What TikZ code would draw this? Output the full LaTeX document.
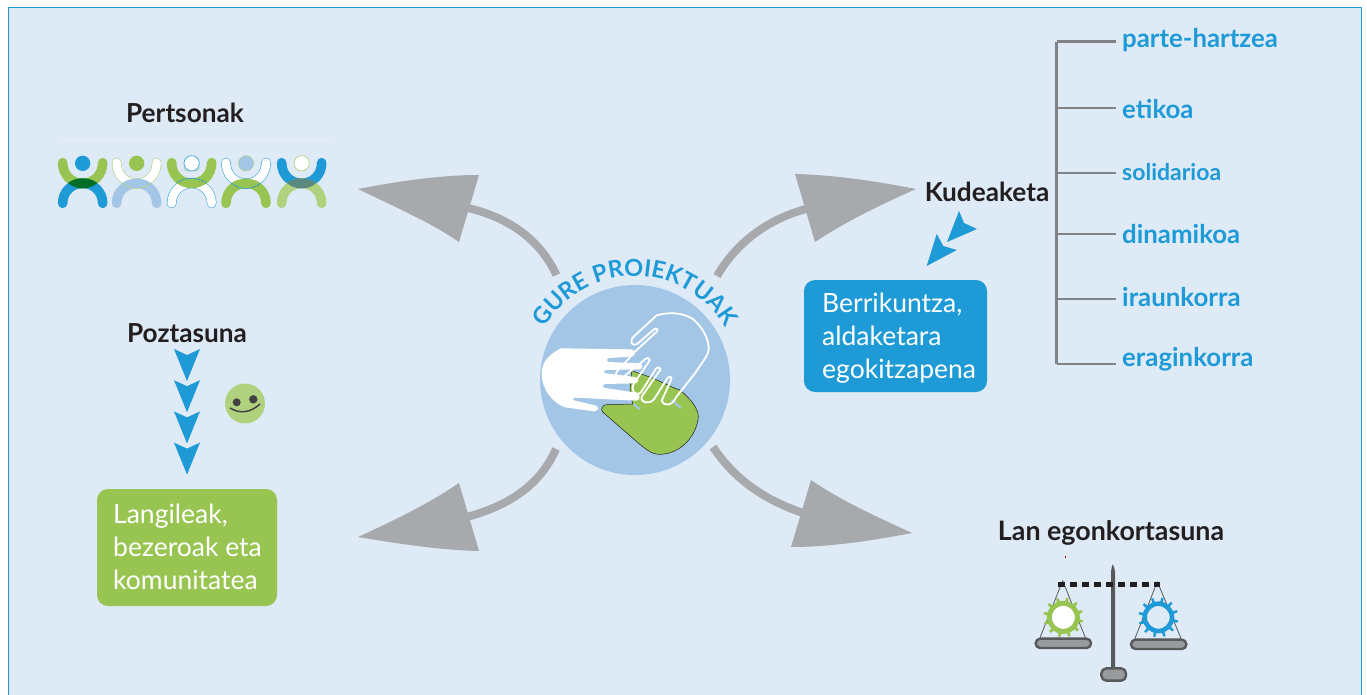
\documentclass[tikz,border=0pt]{standalone}
\usepackage{fontspec}
\setmainfont{Lato}
\usetikzlibrary{decorations.text,calc}
\definecolor{bgc}{HTML}{DEEAF6}
\definecolor{frame}{HTML}{1E9AD6}
\definecolor{bluec}{HTML}{1E9AD6}
\definecolor{greenc}{HTML}{98C552}
\definecolor{lgreen}{HTML}{B0D27F}
\definecolor{lblue}{HTML}{A3C6E7}
\definecolor{greyc}{HTML}{A7A9AC}
\definecolor{treec}{HTML}{808285}
\definecolor{darkc}{HTML}{231F20}
\definecolor{scalec}{HTML}{58595B}
\definecolor{panc}{HTML}{999A9C}
\tikzset{
  x=1pt,y=-1pt,
  title/.style={font=\bfseries\fontsize{26.2}{28}\selectfont,text=darkc,inner sep=0pt},
  item/.style={font=\bfseries\fontsize{25.8}{28}\selectfont,text=bluec,inner sep=0pt,anchor=west},
  boxtext/.style={font=\fontsize{26.5}{33}\selectfont,text=white,align=left,anchor=west,inner sep=0pt},
  shaft/.style={draw=greyc,line width=8pt},
  headg/.style={fill=greyc},
  smallarrow/.style={fill=bluec},
  branch/.style={draw=treec,line width=2.6pt},
}
\newcommand{\armpath}[1]{(#1-60,218) .. controls (#1-60,255) and (#1-33,280) .. (#1,280) .. controls (#1+33,280) and (#1+60,255) .. (#1+60,218)}
\newcommand{\legpath}[1]{(#1-60,340) .. controls (#1-60,305) and (#1-33,280) .. (#1,280) .. controls (#1+33,280) and (#1+60,305) .. (#1+60,340)}
\newcommand{\lenspath}[1]{(#1-44,279) .. controls (#1-20,260) and (#1+20,260) .. (#1+44,279) .. controls (#1+20,301) and (#1-20,301) .. cycle}
\newcommand{\toparc}[1]{(#1-44,279) .. controls (#1-20,260) and (#1+20,260) .. (#1+44,279)}
\newcommand{\botarc}[1]{(#1-44,279) .. controls (#1-20,301) and (#1+20,301) .. (#1+44,279)}
\newcommand{\gearteeth}[4]{\foreach \a in {0,30,...,330}{\fill[#4] ($(#1,#2)+(\a+5:#3)$) -- ($(#1,#2)+(\a+9:60)$) -- ($(#1,#2)+(\a+15:60)$) -- ($(#1,#2)+(\a+19:#3)$) -- cycle;}}
\begin{document}
\begin{tikzpicture}[line join=round]
\useasboundingbox (0,0) rectangle (1367,694);
\fill[white] (0,0) rectangle (1367,694);
\fill[bgc] (8,7) rectangle (1362,700);
\draw[frame,line width=1.6pt] (8.5,700) -- (8.5,7.5) -- (1361.5,7.5) -- (1361.5,700);

% centre disc
\node[circle,fill=lblue,minimum size=190pt,inner sep=0pt] (core) at (635,380) {};
\path[decorate,decoration={text along path,text align=center,
   text={|\bfseries\fontsize{23.5}{28}\selectfont\color{bluec}|GURE PROIEKTUAK}}]
   (635,380)++(-170:104) arc[start angle=-170,end angle=-10,radius=104];

% hands
\begin{scope}[shift={(520,250)},x=0.33333pt,y=-0.33333pt]
 \path[fill=greenc,draw=darkc,line width=0.5pt]
   (245,478) .. controls (245,470) and (252,464) .. (262,464) -- (338,462) -- (330,420) -- (335,362)
   -- (400,385) -- (465,415) -- (480,420)
   .. controls (510,445) and (535,475) .. (535,500)
   .. controls (530,560) and (480,612) .. (420,613)
   .. controls (395,613) and (380,600) .. (350,575)
   -- (255,492) .. controls (248,488) and (245,484) .. (245,478) -- cycle;
 \draw[lblue,line width=2pt,line cap=round] (342,463) -- (358,477);
 \draw[lblue,line width=2pt,line cap=round] (456,450) -- (482,474);
 \path[fill=white]
   (122,295) -- (335,298) .. controls (347,300) and (347,318) .. (335,320) -- (265,324) .. controls (258,326) and (258,334) .. (265,336)
   -- (358,340) .. controls (370,342) and (370,356) .. (358,358) -- (258,360) .. controls (250,362) and (250,368) .. (258,370)
   -- (345,381) .. controls (358,385) and (358,398) .. (345,400) -- (255,402) .. controls (247,404) and (247,412) .. (255,414)
   -- (350,428) .. controls (362,432) and (362,450) .. (350,452) -- (165,443) .. controls (157,445) and (157,450) .. (165,452)
   -- (225,466) .. controls (238,470) and (238,482) .. (222,484) -- (135,472)
   .. controls (100,460) and (65,420) .. (65,370) .. controls (65,330) and (95,310) .. (122,295) -- cycle;
 \draw[white,line width=1.8pt]
   (345,256) -- (410,196) .. controls (450,185) and (490,188) .. (520,208)
   .. controls (550,235) and (568,270) .. (566,300) .. controls (560,325) and (540,345) .. (525,370)
   -- (468,442) .. controls (458,468) and (430,470) .. (425,452) -- (455,386) .. controls (452,378) and (446,378) .. (442,385)
   -- (402,448) .. controls (392,462) and (360,462) .. (365,440) -- (422,358) .. controls (420,350) and (412,350) .. (408,356)
   -- (362,428) .. controls (345,440) and (330,420) .. (342,400) -- (390,330) .. controls (388,322) and (380,322) .. (375,328)
   -- (305,385) .. controls (290,385) and (280,375) .. (295,360) -- (345,305) -- (410,245) .. controls (416,238) and (410,232) .. (402,238)
   -- (350,283) .. controls (335,290) and (325,272) .. (345,256) -- cycle;
\end{scope}

% grey arrows
\coordinate (aTL) at (556.5,275); \coordinate (hTL) at (468,208);
\coordinate (aTR) at (717,276);   \coordinate (hTR) at (806,209);
\coordinate (aBL) at (556,449);   \coordinate (hBL) at (467,517);
\coordinate (aBR) at (713,447);   \coordinate (hBR) at (803,513);
\draw[shaft] (aTL) .. controls (540,240) and (510,218) .. (hTL);
\draw[shaft] (aTR) .. controls (735,245) and (765,220) .. (hTR);
\draw[shaft] (aBL) .. controls (540,485) and (510,505) .. (hBL);
\draw[shaft] (aBR) .. controls (735,480) and (765,500) .. (hBR);
\fill[headg] (358,189) .. controls (400,181) and (440,175) .. (479,175) -- (459,242) .. controls (430,222) and (395,207) .. cycle;
\fill[headg] (916,189) .. controls (875,181) and (835,175) .. (795,174) -- (815,242) .. controls (845,222) and (880,205) .. cycle;
\fill[headg] (358,537) .. controls (400,544) and (440,550) .. (479,551) -- (459,483) .. controls (430,503) and (395,520) .. cycle;
\fill[headg] (912,533) .. controls (870,541) and (830,547) .. (791,547) -- (811,480) .. controls (840,500) and (875,516) .. cycle;

% people
\node[title] (pertsonak) at (185,113) {Pertsonak};
\draw[white!25!bgc,line width=0.5pt] (57,140.5) -- (330,140.5);
\begin{scope}[shift={(40,90)},x=0.33333pt,y=-0.33333pt,line cap=round]
 % 1
 \draw[greenc,line width=9.6pt] \armpath{128};
 \draw[bluec,line width=9.6pt] \legpath{128};
 \fill[green!40!black!70!teal] \lenspath{128};
 \fill[bluec] (128,220) circle (23);
 % 2
 \draw[lgreen,line width=9.6pt] \armpath{290};
 \draw[white,line width=8.4pt] \armpath{290};
 \draw[lblue,line width=9.6pt] \legpath{290};
 \draw[lgreen,line width=0.6pt] \botarc{290};
 \fill[greenc] (290,220) circle (23);
 % 3
 \draw[bluec,line width=9.6pt] \legpath{455};
 \draw[white,line width=8.6pt] \legpath{455};
 \draw[greenc,line width=9.6pt] \armpath{455};
 \draw[bluec,line width=0.6pt] \toparc{455};
 \draw[bluec,fill=white,line width=0.6pt] (455,220) circle (23);
 \draw[greenc,line width=0.3pt] (432,232) arc[start angle=180,end angle=60,radius=12];
 \draw[greenc,line width=0.3pt] (478,232) arc[start angle=0,end angle=120,radius=12];
 % 4
 \draw[bluec,line width=9.6pt] \armpath{618};
 \draw[white,line width=8.6pt] \armpath{618};
 \draw[greenc,line width=9.6pt] \legpath{618};
 \draw[bluec,line width=0.6pt] \botarc{618};
 \draw[lgreen,line width=0.4pt,fill=lblue] (618,220) circle (23);
 % 5
 \draw[bluec,line width=9.6pt] \armpath{785};
 \draw[lgreen,line width=9.6pt] \legpath{785};
 \fill[green!25!black!45!lblue] \lenspath{785};
 \draw[lgreen,fill=white,line width=0.7pt] (785,220) circle (23);
\end{scope}

% Poztasuna column
\node[title] (poztasuna) at (187,333) {Poztasuna};
\foreach \d in {0,31.2,62.4,93.6}{
  \fill[smallarrow,shift={(0,\d)}] (174,349) -- (187,355) -- (200,349) -- (187,381) -- cycle;
}
\fill[lgreen] (245,403.5) circle (20);
\fill[darkc!85] (236.7,402.3) circle (4);
\fill[darkc!85] (253.3,399.3) circle (4.2);
\draw[darkc!85,line width=1.5pt] (230,408) .. controls (240,414) and (250,413) .. (260,404);

\node[fill=greenc,rounded corners=11pt,minimum width=180pt,minimum height=117pt,inner sep=0pt] (lang) at (187,547.5) {};
\node[boxtext] (langt) at (113,547) {Langileak,\\bezeroak eta\\komunitatea};

% Kudeaketa side
\node[title] (kude) at (987,192) {Kudeaketa};
\fill[smallarrow] (947,242) -- (959,211) -- (964,223) -- (977,229) -- cycle;
\fill[smallarrow] (926.7,266) -- (936.7,234) -- (943.3,246) -- (956.7,250) -- cycle;
\node[fill=bluec,rounded corners=11pt,minimum width=183pt,minimum height=112pt,inner sep=0pt] (berri) at (895.5,336) {};
\node[boxtext] (berrit) at (822,338) {Berrikuntza,\\aldaketara\\egokitzapena};

% tree
\node[item] (i1) at (1122,40) {parte-hartzea};
\node[item] (i2) at (1122,109) {etikoa};
\node[item,font=\bfseries\fontsize{23}{26}\selectfont] (i3) at (1122,172) {solidarioa};
\node[item] (i4) at (1122,234) {dinamikoa};
\node[item] (i5) at (1122,297) {iraunkorra};
\node[item] (i6) at (1122,359) {eraginkorra};
\coordinate (t1) at (1056.5,41.5);\coordinate (t2) at (1056.5,108);\coordinate (t3) at (1056.5,173);
\coordinate (t4) at (1056.5,234);\coordinate (t5) at (1056.5,299);\coordinate (t6) at (1056.5,364);
\draw[branch] (t1) -- (t6);
\foreach \n in {1,...,6}{\draw[branch,shorten >=6pt] (t\n) -- (t\n -| i\n.west);}

% balance
\node[title,font=\bfseries\fontsize{26.8}{28}\selectfont] (lan) at (1111,533) {Lan egonkortasuna};
\draw[red!70!black,line width=0.4pt] (1065.3,556) -- (1065.3,557.5);
\begin{scope}[shift={(1000,540)},x=0.33333pt,y=-0.33333pt]
 \draw[scalec,line width=0.8pt] (118,298) -- (188,122) -- (258,298);
 \draw[scalec,line width=0.8pt] (403,300) -- (472,125) -- (545,300);
 \gearteeth{190}{232}{45}{greenc}
 \draw[greenc,line width=5pt] (190,232) circle (42);
 \fill[white] (190,232) circle (34);
 \gearteeth{475}{232}{40}{bluec}
 \draw[bluec,line width=4.6pt] (475,232) circle (41);
 \fill[scalec] (333,385) -- (333,95) .. controls (334,85) and (336,78) .. (338,73) .. controls (341,78) and (344,85) .. (345,95) -- (345,385) -- cycle;
 \draw[darkc,line width=5pt,dash pattern=on 6.6pt off 5.4pt] (175,133) -- (480,133);
 \draw[scalec,fill=panc,line width=2.4pt,rounded corners=4.5pt] (107,296) rectangle (273,324);
 \draw[scalec,fill=panc,line width=2.4pt,rounded corners=4.5pt] (393,299) rectangle (559,327);
 \draw[scalec,fill=panc,line width=2.4pt,rounded corners=5pt] (304,385) rectangle (378,422);
\end{scope}
\end{tikzpicture}
\end{document}
